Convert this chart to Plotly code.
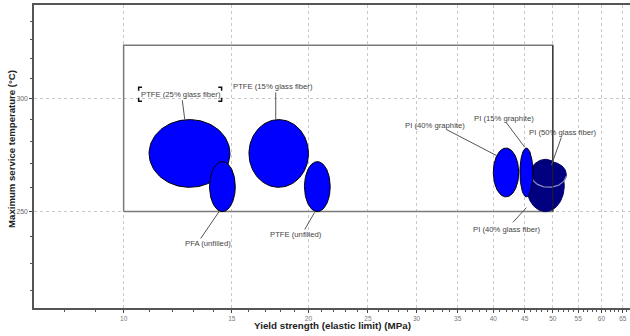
import numpy as np
import plotly.graph_objects as go

# ---- data ----
materials = ["PTFE (25% glass fiber)", "PFA (unfilled)", "PTFE (15% glass fiber)", "PTFE (unfilled)",
             "PI (40% graphite)", "PI (40% glass fiber)", "PI (50% glass fiber)", "PI (15% graphite)"]
yield_lo = [11.0, 13.8, 16.0, 19.7, 40.0, 45.3, 46.1, 44.2]   # MPa
yield_hi = [14.9, 15.2, 20.0, 21.7, 44.0, 52.2, 52.6, 46.4]
temp_lo = [260, 250, 260, 250, 256, 250, 260, 256]            # deg C
temp_hi = [290, 271, 290, 271, 277, 272, 271, 277]
fill_colors = ["#0000ff", "#0000ff", "#0000ff", "#0000ff", "#0000ff", "#000080", "#000080", "#0000ff"]

x_ticks = [10, 15, 20, 25, 30, 35, 40, 45, 50, 55, 60, 65]
y_ticks = [250, 300]
x_minor = [v for v in range(8, 67) if v not in x_ticks]
y_minor = [v for v in range(220, 350, 10) if v not in y_ticks]

# selection box (x range, y range)
box_x = [10, 50]
box_y = [250, 327]

# label positions (text centre) and leader line (start, end) in data units
label_pos = [(12.41, 302.1), (13.70, 237.5), (17.52, 306.1), (19.06, 241.0),
             (32.10, 287.4), (42.13, 242.9), (51.98, 284.1), (41.58, 290.6)]
leader = [((12.46, 299.2), (12.58, 289.7)),
          ((13.35, 239.4), (14.33, 250.3)),
          ((17.69, 303.0), (17.69, 289.8)),
          ((19.72, 242.9), (20.47, 249.7)),
          ((33.55, 285.4), (40.46, 273.7)),
          ((43.05, 245.7), (45.28, 251.6)),
          ((51.63, 281.8), (49.73, 269.4)),
          ((42.0, 288.6), (44.99, 277.4))]

fig = go.Figure()

t = np.linspace(0, 2 * np.pi, 121)


def ellipse(i, tt):
    lx0, lx1 = np.log10(yield_lo[i]), np.log10(yield_hi[i])
    ly0, ly1 = np.log10(temp_lo[i]), np.log10(temp_hi[i])
    cx, rx = (lx0 + lx1) / 2, (lx1 - lx0) / 2
    cy, ry = (ly0 + ly1) / 2, (ly1 - ly0) / 2
    return 10 ** (cx + rx * np.cos(tt)), 10 ** (cy + ry * np.sin(tt))


# selection box
fig.add_trace(go.Scatter(x=[box_x[0], box_x[1], box_x[1], box_x[0], box_x[0]],
                         y=[box_y[0], box_y[0], box_y[1], box_y[1], box_y[0]],
                         mode="lines", line=dict(color="#7a7a7a", width=1.5),
                         hoverinfo="skip", showlegend=False))

draw_order = [0, 1, 2, 3, 4, 5, 6, 7]
for i in draw_order:
    ex, ey = ellipse(i, t)
    lc = "#000000" if fill_colors[i] == "#0000ff" else "#000060"
    fig.add_trace(go.Scatter(x=ex, y=ey, mode="lines", fill="toself",
                             fillcolor=fill_colors[i], line=dict(color=lc, width=1),
                             name=materials[i], showlegend=False, hoverinfo="name"))
    if i == 6:
        ax_, ay_ = ellipse(i, np.linspace(np.pi * 1.05, np.pi * 1.95, 40))
        fig.add_trace(go.Scatter(x=ax_, y=ay_, mode="lines",
                                 line=dict(color="#8c8cc8", width=1.2),
                                 hoverinfo="skip", showlegend=False))

# box right edge drawn over the navy bubble
fig.add_trace(go.Scatter(x=[box_x[1], box_x[1]], y=[box_y[0], box_y[1]], mode="lines",
                         line=dict(color="#222222", width=1), hoverinfo="skip", showlegend=False))

# leader lines
for (p0, p1) in leader:
    fig.add_trace(go.Scatter(x=[p0[0], p1[0]], y=[p0[1], p1[1]], mode="lines",
                             line=dict(color="#555555", width=1), hoverinfo="skip", showlegend=False))

# selection corner brackets around first label
cx0, cx1 = 10.579, 14.44
cy0, cy1 = 298.7, 305.5
dxl, dyl = 0.0055, 0.0024
for (xc, yc, sx, sy) in [(cx0, cy1, 1, -1), (cx1, cy1, -1, -1), (cx0, cy0, 1, 1), (cx1, cy0, -1, 1)]:
    fig.add_trace(go.Scatter(x=[xc * 10 ** (sx * dxl), xc, xc],
                             y=[yc, yc, yc * 10 ** (sy * dyl)], mode="lines",
                             line=dict(color="#111111", width=1.5), hoverinfo="skip", showlegend=False))

annotations = []
for name, (lx, ly) in zip(materials, label_pos):
    annotations.append(dict(x=np.log10(lx), y=np.log10(ly), xref="x", yref="y", text=name,
                            showarrow=False, font=dict(family="Liberation Sans", size=7.7, color="#444444")))

annotations.append(dict(x=0.5, y=-0.034, xref="paper", yref="paper", yanchor="top", xanchor="center",
                        text="<b>Yield strength (elastic limit) (MPa)</b>", showarrow=False,
                        font=dict(family="Liberation Sans", size=9.8, color="#222222")))
annotations.append(dict(x=-0.0369, y=0.525, xref="paper", yref="paper", textangle=-90,
                        xanchor="center", yanchor="middle",
                        text="<b>Maximum service temperature (°C)</b>", showarrow=False,
                        font=dict(family="Liberation Sans", size=9.6, color="#222222")))

fig.update_layout(
    width=630, height=336,
    margin=dict(l=34, r=0, t=5, b=28),
    paper_bgcolor="white", plot_bgcolor="white",
    annotations=annotations,
    xaxis=dict(type="log", range=[0.854, 1.8247], tickmode="array", tickvals=x_ticks,
               ticktext=[str(v) for v in x_ticks], ticks="outside", ticklen=3,
               tickfont=dict(family="Liberation Sans", size=6.5, color="#777777"),
               showline=True, linecolor="#555555", linewidth=1.5, mirror=True,
               showgrid=True, gridcolor="#c8c8c8", griddash="dot", gridwidth=1, zeroline=False,
               minor=dict(tickmode="array", tickvals=x_minor, ticks="outside", ticklen=2,
                          tickcolor="#555555", showgrid=False)),
    yaxis=dict(type="log", range=[2.3304, 2.5427], tickmode="array", tickvals=y_ticks,
               ticktext=[str(v) for v in y_ticks], ticks="outside", ticklen=3, showticklabels=True,
               tickfont=dict(family="Liberation Sans", size=6.8, color="#666666"),
               showline=True, linecolor="#555555", linewidth=1.5, mirror=False,
               showgrid=True, gridcolor="#c8c8c8", griddash="dot", gridwidth=1, zeroline=False,
               minor=dict(tickmode="array", tickvals=y_minor, ticks="outside", ticklen=2,
                          tickcolor="#555555", showgrid=False)),
)

fig.write_html("out.html", config={"displayModeBar": False},
               post_script="document.body.style.margin='0';document.body.style.overflow='hidden';")
